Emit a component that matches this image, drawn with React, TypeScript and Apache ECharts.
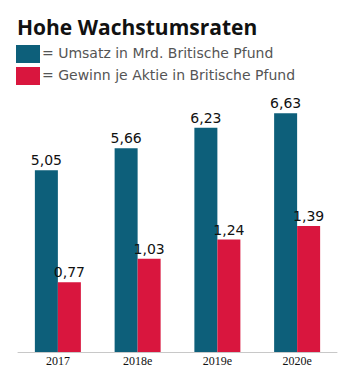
import React, { useEffect, useRef } from "react";
import * as echarts from "echarts";

const categories = ["2017", "2018e", "2019e", "2020e"];
const umsatz = [5.05, 5.66, 6.23, 6.63];
const gewinn = [0.77, 1.03, 1.24, 1.39];
const seriesNames = ["Umsatz in Mrd. Britische Pfund", "Gewinn je Aktie in Britische Pfund"];
const colors = ["#0d5f7a", "#d9163e"];

export default function App() {
  const ref = useRef<HTMLDivElement>(null);
  useEffect(() => {
    if (!ref.current) return;
    const chart = echarts.init(ref.current, null, { renderer: "svg" });
    const fmt = (p: any) => String(p.value.toFixed(2)).replace(".", ",");
    const legendItems: any[] = [];
    seriesNames.forEach((n, i) => {
      legendItems.push({
        type: "rect",
        left: 8,
        top: 37 + i * 22,
        shape: { width: 24, height: 18 },
        style: { fill: colors[i] },
      });
      legendItems.push({
        type: "text",
        left: 34,
        top: 37 + i * 22 + 1,
        style: {
          text: "= " + n,
          fill: "#555",
          font: "14px 'DejaVu Sans'",
        },
      });
    });
    chart.setOption({
      animation: false,
      title: {
        text: "Hohe Wachstumsraten",
        left: 4,
        top: 3,
        textStyle: { fontFamily: "Open Sans", fontWeight: "bold", fontSize: 21, color: "#111" },
      },
      graphic: legendItems,
      grid: { left: 10, right: 15, top: 92, bottom: 22, containLabel: false },
      xAxis: {
        type: "category",
        data: categories,
        axisTick: { show: false },
        axisLine: { lineStyle: { color: "#c8c8c8", width: 1 } },
        axisLabel: { color: "#111", fontSize: 12, fontFamily: "Liberation Serif", margin: 3 },
      },
      yAxis: [
        { type: "value", min: 0, max: 7, show: false, splitLine: { show: false } },
        { type: "value", min: 0, max: 2.78, show: false, splitLine: { show: false } },
      ],
      series: [
        {
          name: seriesNames[0],
          type: "bar",
          data: umsatz,
          yAxisIndex: 0,
          barWidth: 23,
          barGap: "0%",
          itemStyle: { color: colors[0] },
          label: {
            show: true,
            position: "top",
            distance: 3,
            formatter: fmt,
            color: "#111",
            fontSize: 14,
            fontFamily: "DejaVu Sans",
          },
        },
        {
          name: seriesNames[1],
          type: "bar",
          data: gewinn,
          yAxisIndex: 1,
          barWidth: 23,
          barGap: "0%",
          itemStyle: { color: colors[1] },
          label: {
            show: true,
            position: "top",
            distance: 3,
            formatter: fmt,
            color: "#111",
            fontSize: 14,
            fontFamily: "DejaVu Sans",
          },
        },
      ],
    });
    return () => chart.dispose();
  }, []);
  return <div ref={ref} style={{ width: 344, height: 366 }} />;
}
